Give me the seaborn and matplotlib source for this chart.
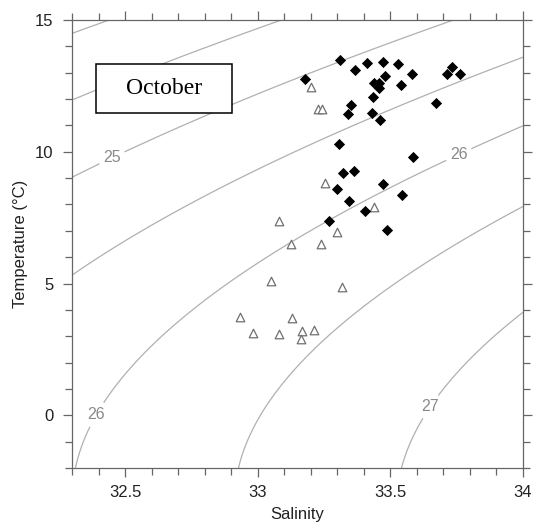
import numpy as np
import pandas as pd
import matplotlib
matplotlib.use("Agg")
import matplotlib.pyplot as plt
import matplotlib.ticker as mticker
from matplotlib.patches import Rectangle
import seaborn as sns

# ---- data ----
diamond_sal = [33.179, 33.310, 33.367, 33.412, 33.474, 33.527, 33.583, 33.712, 33.734, 33.764,
               33.481, 33.438, 33.458, 33.457, 33.539, 33.433, 33.672, 33.351, 33.341, 33.432,
               33.461, 33.306, 33.587, 33.323, 33.363, 33.300, 33.471, 33.543, 33.345, 33.403,
               33.270, 33.489]
diamond_temp = [12.76, 13.48, 13.10, 13.36, 13.39, 13.32, 12.95, 12.95, 13.23, 12.94,
                12.88, 12.60, 12.62, 12.41, 12.53, 12.09, 11.84, 11.77, 11.43, 11.48,
                11.19, 10.28, 9.81, 9.21, 9.28, 8.58, 8.77, 8.37, 8.14, 7.76,
                7.39, 7.04]
triangle_sal = [33.200, 33.229, 33.242, 33.080, 33.124, 33.239, 33.254, 33.300, 33.438,
                33.050, 33.318, 32.934, 33.129, 32.981, 33.080, 33.166, 33.163, 33.212]
triangle_temp = [12.46, 11.61, 11.61, 7.39, 6.50, 6.49, 8.80, 6.94, 7.89,
                 5.10, 4.85, 3.73, 3.68, 3.14, 3.07, 3.18, 2.88, 3.23]
unlabeled_levels = [24.0, 24.5, 25.5, 26.5, 27.5]
labeled_levels = [25.0, 26.0, 27.0]
x_ticks = [32.5, 33.0, 33.5, 34.0]
x_ticklabels = ["32.5", "33", "33.5", "34"]
y_ticks = [0, 5, 10, 15]
y_ticklabels = ["0", "5", "10", "15"]
panel_label = "October"


def sigma_t(S, T):
    rw = (999.842594 + 6.793952e-2 * T - 9.095290e-3 * T**2 + 1.001685e-4 * T**3
          - 1.120083e-6 * T**4 + 6.536332e-9 * T**5)
    A = 8.24493e-1 - 4.0899e-3 * T + 7.6438e-5 * T**2 - 8.2467e-7 * T**3 + 5.3875e-9 * T**4
    B = -5.72466e-3 + 1.0227e-4 * T - 1.6546e-6 * T**2
    C = 4.8314e-4
    return rw + A * S + B * S**1.5 + C * S**2 - 1000.0


sns.set_style("ticks")
plt.rcParams["font.family"] = ["Liberation Sans", "DejaVu Sans"]

fig = plt.figure(figsize=(5.36, 5.23), dpi=100)
ax = fig.add_axes([72 / 536, 1 - 468 / 523, 451 / 536, 448 / 523])

# density contours
Sg, Tg = np.meshgrid(np.linspace(32.3, 34.0, 300), np.linspace(-2.0, 15.0, 300))
sig = sigma_t(Sg, Tg)
ax.contour(Sg, Tg, sig, levels=unlabeled_levels, colors="#b0b0b0",
           linewidths=0.9, zorder=1)
cs = ax.contour(Sg, Tg, sig, levels=labeled_levels, colors="#b0b0b0",
                linewidths=0.9, zorder=1)
labels = ax.clabel(cs, fmt="%g", fontsize=11.5, colors="#8a8a8a",
                   inline=True, inline_spacing=5,
                   manual=[(32.44, 10.0), (33.75, 10.07), (32.38, 0.1), (33.64, 0.4)])
for t in labels:
    t.set_rotation(0)

df_d = pd.DataFrame({"Salinity": diamond_sal, "Temperature": diamond_temp})
df_t = pd.DataFrame({"Salinity": triangle_sal, "Temperature": triangle_temp})
sns.scatterplot(data=df_t, x="Salinity", y="Temperature", ax=ax, marker="^", s=38,
                facecolor="white", edgecolor="#707070", linewidth=0.9, zorder=3)
sns.scatterplot(data=df_d, x="Salinity", y="Temperature", ax=ax, marker="D", s=26,
                color="black", edgecolor="black", linewidth=0.6, zorder=4)

ax.set_xlim(32.3, 34.0)
ax.set_ylim(-2.0, 15.0)
ax.set_xticks(x_ticks)
ax.set_xticklabels(x_ticklabels)
ax.set_yticks(y_ticks)
ax.set_yticklabels(y_ticklabels)
ax.xaxis.set_minor_locator(mticker.MultipleLocator(0.1))
ax.yaxis.set_minor_locator(mticker.MultipleLocator(1))
ax.tick_params(which="both", direction="out", top=True, right=True, color="#666666",
               width=0.9, labelcolor="#222222", labelsize=12)
ax.tick_params(which="major", length=6.5)
ax.tick_params(which="minor", length=5)
ax.tick_params(axis="y", pad=7)
ax.tick_params(axis="x", pad=6)
for sp in ax.spines.values():
    sp.set_visible(True)
    sp.set_color("#666666")
    sp.set_linewidth(0.9)

ax.set_xlabel("Salinity", fontsize=12, color="#222222", labelpad=5)
ax.set_ylabel("Temperature (\u00b0C)", fontsize=12, color="#222222", labelpad=5)

ax.add_patch(Rectangle((0.053, 0.793), 0.301, 0.109, transform=ax.transAxes,
                       facecolor="white", edgecolor="black", linewidth=1.1, zorder=5))
ax.text(0.204, 0.847, panel_label, transform=ax.transAxes, ha="center", va="center",
        fontsize=17, family=["Liberation Serif", "DejaVu Serif"], color="black", zorder=6)

fig.savefig("out.png", dpi=100)
